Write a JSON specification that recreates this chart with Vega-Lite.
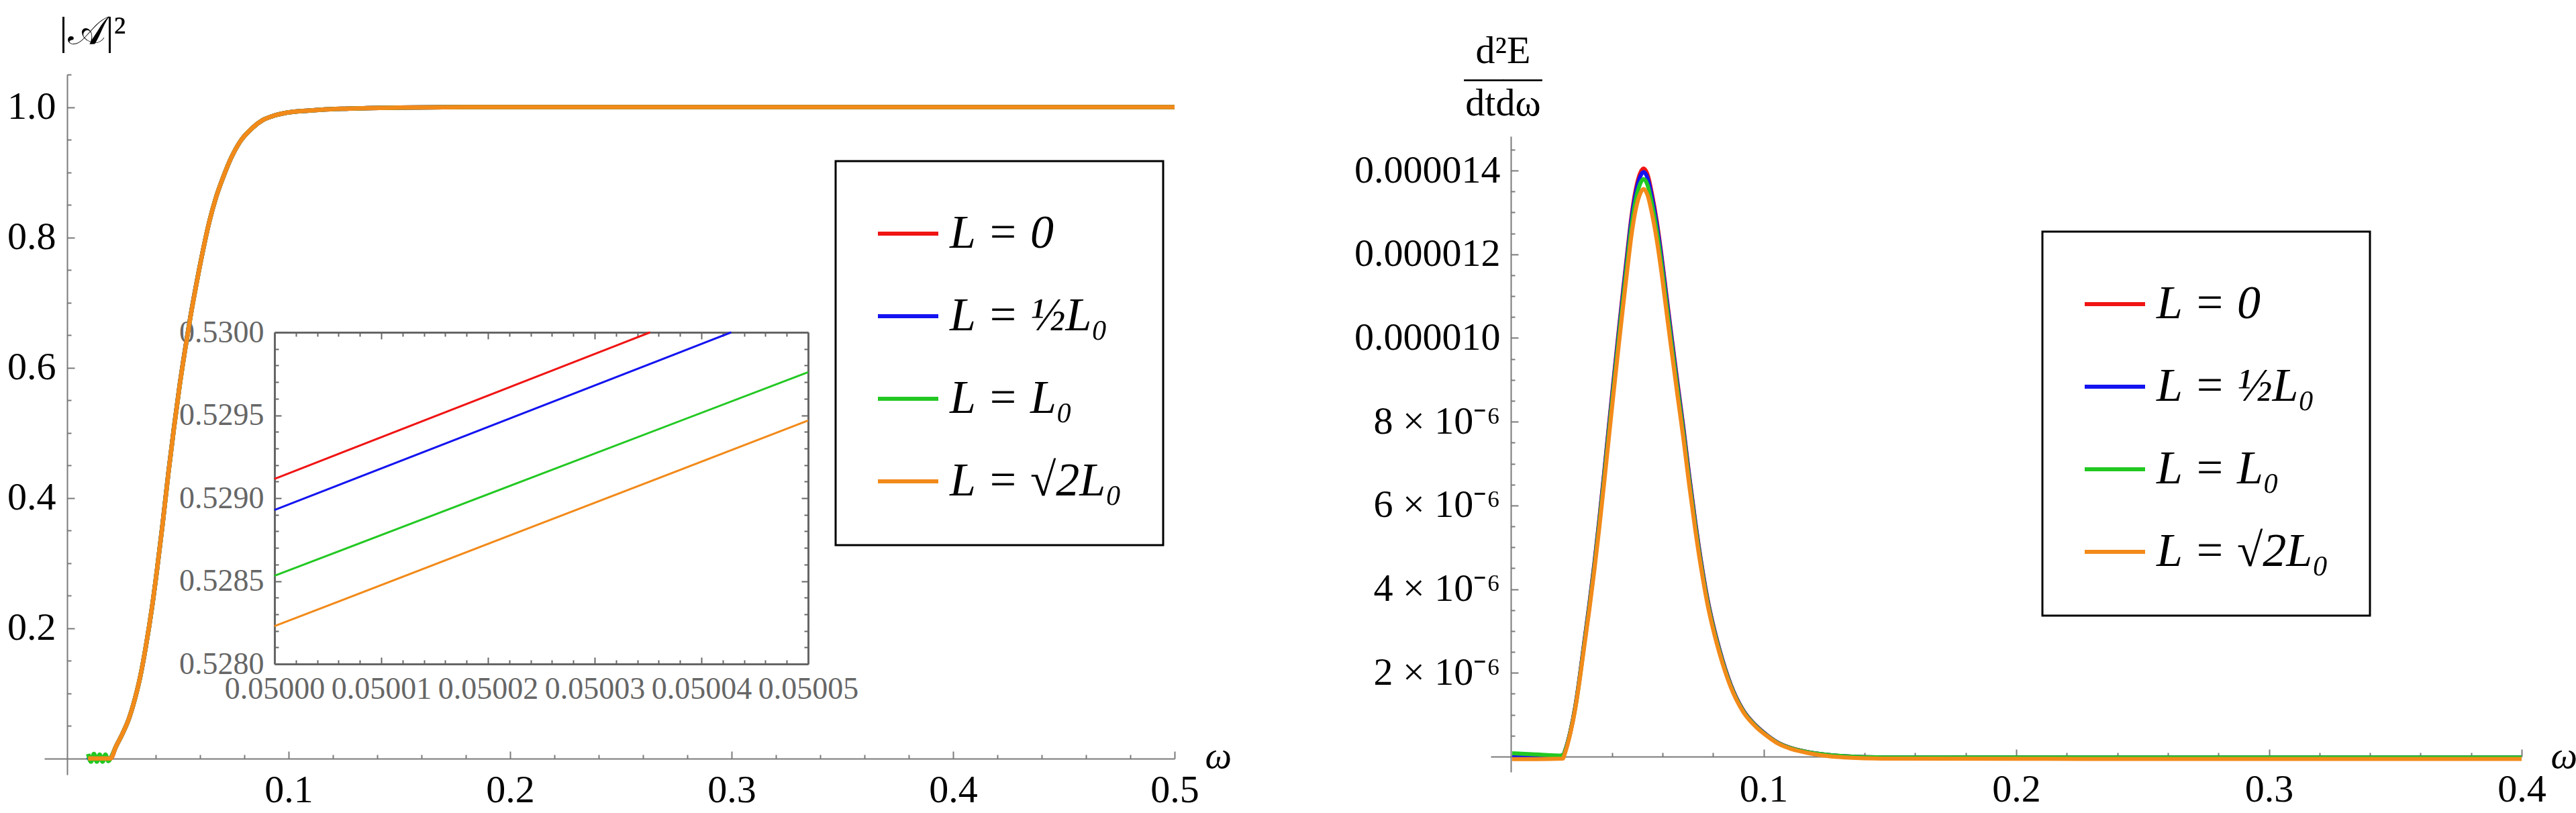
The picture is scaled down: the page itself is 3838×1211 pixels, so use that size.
{
  "$schema": "https://vega.github.io/schema/vega-lite/v6.json",
  "background": "white",
  "padding": {"left": 10, "top": 17, "right": 5, "bottom": 5},
  "spacing": 182,
  "config": {
    "view": {"stroke": null},
    "line": {"interpolate": "monotone", "strokeCap": "butt"},
    "axis": {
      "grid": false,
      "domainColor": "#7a7a7a",
      "domainWidth": 2,
      "tickColor": "#7a7a7a",
      "tickWidth": 2,
      "labelFont": "Liberation Serif",
      "labelFontSize": 58,
      "labelColor": "black",
      "labelLimit": 0,
      "labelFlush": false,
      "labelOverlap": false,
      "labelBound": false,
      "titleFont": "Liberation Serif",
      "titleFontWeight": "normal",
      "titleColor": "black",
      "titlePadding": 0,
      "titleLimit": 0
    },
    "legend": {
      "title": null,
      "symbolType": "stroke",
      "symbolSize": 8100,
      "symbolStrokeWidth": 6,
      "labelFont": "Liberation Serif",
      "labelFontSize": 70,
      "labelFontStyle": "italic",
      "labelColor": "black",
      "labelLimit": 0,
      "labelOffset": 14,
      "rowPadding": 40,
      "padding": 60,
      "strokeColor": "black",
      "strokeWidth": 3,
      "fillColor": "white"
    }
  },
  "datasets": {
    "left": [
      {"w": 0.0095, "a": 0.003, "b": 0.002, "c": 0.007, "d": 0},
      {"w": 0.0108, "a": 0.001, "b": -0.003, "c": -0.005, "d": 0},
      {"w": 0.0121, "a": 0.003, "b": 0.004, "c": 0.007, "d": 0},
      {"w": 0.0134, "a": -0.002, "b": -0.004, "c": -0.005, "d": 0},
      {"w": 0.0147, "a": 0.002, "b": 0.003, "c": 0.006, "d": 0},
      {"w": 0.016, "a": -0.002, "b": -0.003, "c": -0.005, "d": 0},
      {"w": 0.0173, "a": 0.002, "b": 0.002, "c": 0.006, "d": 0},
      {"w": 0.0186, "a": 0, "b": -0.002, "c": -0.004, "d": 0},
      {"w": 0.0196, "a": 0, "b": 0, "c": 0, "d": 0},
      {"w": 0.022, "a": 0.018, "b": 0.018, "c": 0.018, "d": 0.018},
      {"w": 0.025, "a": 0.038, "b": 0.038, "c": 0.038, "d": 0.038},
      {"w": 0.028, "a": 0.062, "b": 0.062, "c": 0.062, "d": 0.062},
      {"w": 0.0305, "a": 0.09, "b": 0.09, "c": 0.09, "d": 0.09},
      {"w": 0.0331, "a": 0.127, "b": 0.127, "c": 0.127, "d": 0.127},
      {"w": 0.0357, "a": 0.175, "b": 0.175, "c": 0.175, "d": 0.175},
      {"w": 0.0382, "a": 0.229, "b": 0.229, "c": 0.229, "d": 0.229},
      {"w": 0.0406, "a": 0.29, "b": 0.29, "c": 0.29, "d": 0.29},
      {"w": 0.0431, "a": 0.3599, "b": 0.3597, "c": 0.3593, "d": 0.359},
      {"w": 0.0457, "a": 0.4379, "b": 0.4377, "c": 0.4373, "d": 0.437},
      {"w": 0.0482, "a": 0.5069, "b": 0.5067, "c": 0.5063, "d": 0.506},
      {"w": 0.0508, "a": 0.5729, "b": 0.5727, "c": 0.5723, "d": 0.572},
      {"w": 0.0533, "a": 0.6289, "b": 0.6287, "c": 0.6283, "d": 0.628},
      {"w": 0.0557, "a": 0.6789, "b": 0.6787, "c": 0.6783, "d": 0.678},
      {"w": 0.0581, "a": 0.7239, "b": 0.7237, "c": 0.7233, "d": 0.723},
      {"w": 0.0611, "a": 0.776, "b": 0.776, "c": 0.776, "d": 0.776},
      {"w": 0.0642, "a": 0.824, "b": 0.824, "c": 0.824, "d": 0.824},
      {"w": 0.0672, "a": 0.861, "b": 0.861, "c": 0.861, "d": 0.861},
      {"w": 0.0702, "a": 0.89, "b": 0.89, "c": 0.89, "d": 0.89},
      {"w": 0.0742, "a": 0.923, "b": 0.923, "c": 0.923, "d": 0.923},
      {"w": 0.0783, "a": 0.948, "b": 0.948, "c": 0.948, "d": 0.948},
      {"w": 0.0833, "a": 0.967, "b": 0.967, "c": 0.967, "d": 0.967},
      {"w": 0.0883, "a": 0.98, "b": 0.98, "c": 0.98, "d": 0.98},
      {"w": 0.0935, "a": 0.987, "b": 0.987, "c": 0.987, "d": 0.987},
      {"w": 0.0985, "a": 0.991, "b": 0.991, "c": 0.991, "d": 0.991},
      {"w": 0.1065, "a": 0.994, "b": 0.994, "c": 0.994, "d": 0.994},
      {"w": 0.1145, "a": 0.996, "b": 0.996, "c": 0.996, "d": 0.996},
      {"w": 0.13, "a": 0.998, "b": 0.998, "c": 0.998, "d": 0.998},
      {"w": 0.15, "a": 0.9993, "b": 0.9993, "c": 0.9993, "d": 0.9993},
      {"w": 0.18, "a": 1, "b": 1, "c": 1, "d": 1},
      {"w": 0.25, "a": 1, "b": 1, "c": 1, "d": 1},
      {"w": 0.5, "a": 1, "b": 1, "c": 1, "d": 1}
    ],
    "inset": [
      {"L": "a", "w": 0.05, "v": 0.529116},
      {"L": "a", "w": 0.0500352, "v": 0.53},
      {"L": "b", "w": 0.05, "v": 0.528929},
      {"L": "b", "w": 0.0500428, "v": 0.53},
      {"L": "c", "w": 0.05, "v": 0.528532},
      {"L": "c", "w": 0.05005, "v": 0.52976},
      {"L": "d", "w": 0.05, "v": 0.528228},
      {"L": "d", "w": 0.05005, "v": 0.529468}
    ],
    "right": [
      {"w": 0.0005, "a": 0.03e-6, "b": 0.03e-6, "c": 0.08e-6, "d": -0.06e-6},
      {"w": 0.01, "a": 0.02e-6, "b": 0.02e-6, "c": 0.05e-6, "d": -0.06e-6},
      {"w": 0.0205, "a": 0, "b": 0, "c": 0.02e-6, "d": -0.05e-6},
      {"w": 0.0215, "a": 0.15e-6, "b": 0.149e-6, "c": 0.147e-6, "d": 0.1e-6},
      {"w": 0.0235, "a": 0.59e-6, "b": 0.586e-6, "c": 0.579e-6, "d": 0.55e-6},
      {"w": 0.0255, "a": 1.2e-6, "b": 1.193e-6, "c": 1.178e-6, "d": 1.15e-6},
      {"w": 0.0272, "a": 1.89e-6, "b": 1.879e-6, "c": 1.856e-6, "d": 1.82e-6},
      {"w": 0.029, "a": 2.72e-6, "b": 2.704e-6, "c": 2.671e-6, "d": 2.62e-6},
      {"w": 0.031, "a": 3.62e-6, "b": 3.598e-6, "c": 3.555e-6, "d": 3.49e-6},
      {"w": 0.033, "a": 4.6e-6, "b": 4.572e-6, "c": 4.517e-6, "d": 4.44e-6},
      {"w": 0.0349, "a": 5.62e-6, "b": 5.586e-6, "c": 5.519e-6, "d": 5.42e-6},
      {"w": 0.0368, "a": 6.72e-6, "b": 6.68e-6, "c": 6.599e-6, "d": 6.48e-6},
      {"w": 0.0387, "a": 7.86e-6, "b": 7.813e-6, "c": 7.719e-6, "d": 7.58e-6},
      {"w": 0.0406, "a": 8.98e-6, "b": 8.926e-6, "c": 8.818e-6, "d": 8.67e-6},
      {"w": 0.0425, "a": 10.08e-6, "b": 10.02e-6, "c": 9.899e-6, "d": 9.73e-6},
      {"w": 0.0444, "a": 11.15e-6, "b": 11.083e-6, "c": 10.949e-6, "d": 10.76e-6},
      {"w": 0.0462, "a": 12.12e-6, "b": 12.047e-6, "c": 11.902e-6, "d": 11.7e-6},
      {"w": 0.0477, "a": 12.9e-6, "b": 12.823e-6, "c": 12.668e-6, "d": 12.45e-6},
      {"w": 0.0491, "a": 13.45e-6, "b": 13.369e-6, "c": 13.208e-6, "d": 12.98e-6},
      {"w": 0.0508, "a": 13.88e-6, "b": 13.797e-6, "c": 13.63e-6, "d": 13.39e-6},
      {"w": 0.0525, "a": 14.05e-6, "b": 13.966e-6, "c": 13.797e-6, "d": 13.56e-6},
      {"w": 0.0541, "a": 13.9e-6, "b": 13.817e-6, "c": 13.65e-6, "d": 13.41e-6},
      {"w": 0.0558, "a": 13.45e-6, "b": 13.369e-6, "c": 13.208e-6, "d": 12.98e-6},
      {"w": 0.0577, "a": 12.8e-6, "b": 12.723e-6, "c": 12.57e-6, "d": 12.35e-6},
      {"w": 0.0596, "a": 11.98e-6, "b": 11.908e-6, "c": 11.764e-6, "d": 11.56e-6},
      {"w": 0.0615, "a": 11.05e-6, "b": 10.984e-6, "c": 10.851e-6, "d": 10.66e-6},
      {"w": 0.0635, "a": 10.08e-6, "b": 10.02e-6, "c": 9.899e-6, "d": 9.73e-6},
      {"w": 0.0659, "a": 8.95e-6, "b": 8.896e-6, "c": 8.789e-6, "d": 8.64e-6},
      {"w": 0.0683, "a": 7.85e-6, "b": 7.803e-6, "c": 7.709e-6, "d": 7.58e-6},
      {"w": 0.0706, "a": 6.7e-6, "b": 6.66e-6, "c": 6.579e-6, "d": 6.47e-6},
      {"w": 0.073, "a": 5.6e-6, "b": 5.566e-6, "c": 5.499e-6, "d": 5.4e-6},
      {"w": 0.0753, "a": 4.65e-6, "b": 4.622e-6, "c": 4.566e-6, "d": 4.49e-6},
      {"w": 0.0777, "a": 3.8e-6, "b": 3.777e-6, "c": 3.732e-6, "d": 3.67e-6},
      {"w": 0.0801, "a": 3.13e-6, "b": 3.111e-6, "c": 3.074e-6, "d": 3.02e-6},
      {"w": 0.0825, "a": 2.57e-6, "b": 2.555e-6, "c": 2.524e-6, "d": 2.48e-6},
      {"w": 0.087, "a": 1.72e-6, "b": 1.71e-6, "c": 1.689e-6, "d": 1.66e-6},
      {"w": 0.092, "a": 1.1e-6, "b": 1.093e-6, "c": 1.08e-6, "d": 1.06e-6},
      {"w": 0.0968, "a": 0.75e-6, "b": 0.746e-6, "c": 0.737e-6, "d": 0.72e-6},
      {"w": 0.1016, "a": 0.5e-6, "b": 0.497e-6, "c": 0.491e-6, "d": 0.48e-6},
      {"w": 0.106, "a": 0.32e-6, "b": 0.318e-6, "c": 0.314e-6, "d": 0.3e-6},
      {"w": 0.111, "a": 0.2e-6, "b": 0.199e-6, "c": 0.196e-6, "d": 0.18e-6},
      {"w": 0.118, "a": 0.1e-6, "b": 0.099e-6, "c": 0.098e-6, "d": 0.08e-6},
      {"w": 0.1255, "a": 0.04e-6, "b": 0.04e-6, "c": 0.039e-6, "d": 0.01e-6},
      {"w": 0.135, "a": 0, "b": 0, "c": 0, "d": -0.03e-6},
      {"w": 0.15, "a": -0.02e-6, "b": -0.02e-6, "c": -0.02e-6, "d": -0.05e-6},
      {"w": 0.2, "a": -0.02e-6, "b": -0.02e-6, "c": -0.02e-6, "d": -0.055e-6},
      {"w": 0.3, "a": -0.02e-6, "b": -0.02e-6, "c": -0.02e-6, "d": -0.056e-6},
      {"w": 0.4, "a": -0.02e-6, "b": -0.02e-6, "c": -0.02e-6, "d": -0.056e-6}
    ]
  },
  "resolve": {"scale": {"color": "independent"}, "legend": {"color": "independent"}},
  "hconcat": [
    {
      "width": 1684,
      "height": 1043,
      "resolve": {"scale": {"x": "independent", "y": "independent"}},
      "layer": [
        {
          "data": {"name": "left"},
          "transform": [{"fold": ["a", "b", "c", "d"], "as": ["L", "v"]}],
          "mark": {"type": "line", "strokeWidth": 6.5},
          "encoding": {
            "x": {
              "field": "w", "type": "quantitative",
              "scale": {"domain": [-0.0103, 0.5], "nice": false, "zero": false},
              "axis": {
                "orient": "bottom", "offset": -24,
                "values": [0.02, 0.04, 0.06, 0.08, 0.1, 0.12, 0.14, 0.16, 0.18, 0.2, 0.22, 0.24, 0.26, 0.28, 0.3, 0.32, 0.34, 0.36, 0.38, 0.4, 0.42, 0.44, 0.46, 0.48, 0.5],
                "labelExpr": "abs(datum.value*10-round(datum.value*10)) < 0.001 ? format(datum.value, '.1f') : ''",
                "tickSize": {"condition": {"test": "abs(datum.value*10-round(datum.value*10)) < 0.001", "value": -11}, "value": -6},
                "labelPadding": 29,
                "title": "ω", "titleFontStyle": "italic", "titleFontSize": 56,
                "titleAngle": 0, "titleAlign": "left", "titleBaseline": "alphabetic",
                "titleX": 1729, "titleY": 13
              }
            },
            "y": {
              "field": "v", "type": "quantitative",
              "scale": {"domain": [-0.025, 1.05], "nice": false, "zero": false},
              "axis": {
                "orient": "left", "offset": -34,
                "values": [0.05, 0.1, 0.15, 0.2, 0.25, 0.3, 0.35, 0.4, 0.45, 0.5, 0.55, 0.6, 0.65, 0.7, 0.75, 0.8, 0.85, 0.9, 0.95, 1.0, 1.05],
                "labelExpr": "abs(datum.value*5-round(datum.value*5)) < 0.001 ? format(datum.value, '.1f') : ''",
                "tickSize": {"condition": {"test": "abs(datum.value*5-round(datum.value*5)) < 0.001", "value": -11}, "value": -6},
                "labelPadding": 28,
                "title": "|𝒜|²", "titleFontSize": 60,
                "titleAngle": 0, "titleAlign": "left", "titleBaseline": "alphabetic",
                "titleX": -12, "titleY": -46
              }
            },
            "color": {
              "field": "L", "type": "nominal",
              "scale": {"domain": ["a", "b", "c", "d"], "range": ["#f01414", "#1414f0", "#22c822", "#f28a1a"]},
              "legend": {
                "orient": "none", "legendX": 1179, "legendY": 129,
                "labelExpr": "datum.label == 'a' ? 'L = 0' : datum.label == 'b' ? 'L = ½L₀' : datum.label == 'c' ? 'L = L₀' : 'L = √2L₀'"
              }
            }
          }
        },
        {
          "data": {"name": "inset"},
          "mark": {"type": "line", "strokeWidth": 3, "interpolate": "linear"},
          "encoding": {
            "x": {
              "field": "w", "type": "quantitative",
              "scale": {"domain": [0.05, 0.05005], "range": [343, 1138], "nice": false, "zero": false},
              "axis": {
                "orient": "bottom", "offset": -165,
                "values": [0.05, 0.050002, 0.050004, 0.050006, 0.050008, 0.05001, 0.050012, 0.050014, 0.050016, 0.050018, 0.05002, 0.050022, 0.050024, 0.050026, 0.050028, 0.05003, 0.050032, 0.050034, 0.050036, 0.050038, 0.05004, 0.050042, 0.050044, 0.050046, 0.050048, 0.05005],
                "labelExpr": "abs((datum.value-0.05)*100000-round((datum.value-0.05)*100000)) < 0.01 ? format(datum.value, '.5f') : ''",
                "tickSize": {"condition": {"test": "abs((datum.value-0.05)*100000-round((datum.value-0.05)*100000)) < 0.01", "value": -10}, "value": -6},
                "labelPadding": 25, "labelFontSize": 46, "labelColor": "#666666",
                "domainColor": "#666666", "domainWidth": 3, "tickColor": "#666666",
                "title": null
              }
            },
            "y": {
              "field": "v", "type": "quantitative",
              "scale": {"domain": [0.528, 0.53], "range": [878, 384], "nice": false, "zero": false},
              "axis": {
                "orient": "left", "offset": -343,
                "values": [0.528, 0.5281, 0.5282, 0.5283, 0.5284, 0.5285, 0.5286, 0.5287, 0.5288, 0.5289, 0.529, 0.5291, 0.5292, 0.5293, 0.5294, 0.5295, 0.5296, 0.5297, 0.5298, 0.5299, 0.53],
                "labelExpr": "abs((datum.value-0.528)*2000-round((datum.value-0.528)*2000)) < 0.01 ? format(datum.value, '.4f') : ''",
                "tickSize": {"condition": {"test": "abs((datum.value-0.528)*2000-round((datum.value-0.528)*2000)) < 0.01", "value": -10}, "value": -6},
                "labelPadding": 26, "labelFontSize": 46, "labelColor": "#666666",
                "domainColor": "#666666", "domainWidth": 3, "tickColor": "#666666",
                "title": null
              }
            },
            "color": {"field": "L", "type": "nominal"}
          }
        },
        {
          "data": {"name": "inset"},
          "mark": {"type": "line", "opacity": 0},
          "encoding": {
            "x": {
              "field": "w", "type": "quantitative",
              "scale": {"domain": [0.05, 0.05005], "range": [343, 1138], "nice": false, "zero": false},
              "axis": {
                "orient": "top", "offset": -384, "labels": false,
                "values": [0.05, 0.050002, 0.050004, 0.050006, 0.050008, 0.05001, 0.050012, 0.050014, 0.050016, 0.050018, 0.05002, 0.050022, 0.050024, 0.050026, 0.050028, 0.05003, 0.050032, 0.050034, 0.050036, 0.050038, 0.05004, 0.050042, 0.050044, 0.050046, 0.050048, 0.05005],
                "tickSize": {"condition": {"test": "abs((datum.value-0.05)*100000-round((datum.value-0.05)*100000)) < 0.01", "value": -10}, "value": -6},
                "domainColor": "#666666", "domainWidth": 3, "tickColor": "#666666",
                "title": null
              }
            },
            "y": {
              "field": "v", "type": "quantitative",
              "scale": {"domain": [0.528, 0.53], "range": [878, 384], "nice": false, "zero": false},
              "axis": {
                "orient": "right", "offset": -546, "labels": false,
                "values": [0.528, 0.5281, 0.5282, 0.5283, 0.5284, 0.5285, 0.5286, 0.5287, 0.5288, 0.5289, 0.529, 0.5291, 0.5292, 0.5293, 0.5294, 0.5295, 0.5296, 0.5297, 0.5298, 0.5299, 0.53],
                "tickSize": {"condition": {"test": "abs((datum.value-0.528)*2000-round((datum.value-0.528)*2000)) < 0.01", "value": -10}, "value": -6},
                "domainColor": "#666666", "domainWidth": 3, "tickColor": "#666666",
                "title": null
              }
            }
          }
        }
      ]
    },
    {
      "width": 1536,
      "height": 1039,
      "data": {"name": "right"},
      "transform": [{"fold": ["a", "b", "c", "d"], "as": ["L", "v"]}],
      "mark": {"type": "line", "strokeWidth": 6},
      "encoding": {
        "x": {
          "field": "w", "type": "quantitative",
          "scale": {"domain": [-0.008, 0.4], "nice": false, "zero": false},
          "axis": {
            "orient": "bottom", "offset": -23,
            "values": [0.02, 0.04, 0.06, 0.08, 0.1, 0.12, 0.14, 0.16, 0.18, 0.2, 0.22, 0.24, 0.26, 0.28, 0.3, 0.32, 0.34, 0.36, 0.38, 0.4],
            "labelExpr": "abs(datum.value*10-round(datum.value*10)) < 0.001 ? format(datum.value, '.1f') : ''",
            "tickSize": {"condition": {"test": "abs(datum.value*10-round(datum.value*10)) < 0.001", "value": -11}, "value": -6},
            "labelPadding": 31,
            "title": "ω", "titleFontStyle": "italic", "titleFontSize": 56,
            "titleAngle": 0, "titleAlign": "left", "titleBaseline": "alphabetic",
            "titleX": 1579, "titleY": 16
          }
        },
        "y": {
          "field": "v", "type": "quantitative",
          "scale": {"domain": [-0.37e-6, 16.295e-6], "nice": false, "zero": false},
          "axis": {
            "orient": "left", "offset": -30,
            "domainDash": [947, 4000],
            "values": [0.5e-6, 1e-6, 1.5e-6, 2e-6, 2.5e-6, 3e-6, 3.5e-6, 4e-6, 4.5e-6, 5e-6, 5.5e-6, 6e-6, 6.5e-6, 7e-6, 7.5e-6, 8e-6, 8.5e-6, 9e-6, 9.5e-6, 10e-6, 10.5e-6, 11e-6, 11.5e-6, 12e-6, 12.5e-6, 13e-6, 13.5e-6, 14e-6, 14.5e-6],
            "labelExpr": "abs(datum.value*500000-round(datum.value*500000)) < 0.01 ? (datum.value > 9e-6 ? format(datum.value, '.6f') : format(datum.value*1000000, 'd') + ' × 10⁻⁶') : ''",
            "tickSize": {"condition": {"test": "abs(datum.value*500000-round(datum.value*500000)) < 0.01", "value": -11}, "value": -6},
            "labelPadding": 27,
            "title": ["d²E", "——", "dtdω"], "titleFontSize": 58, "titleLineHeight": 39,
            "titleAngle": 0, "titleAlign": "center", "titleBaseline": "alphabetic",
            "titleX": -12, "titleY": -18
          }
        },
        "color": {
          "field": "L", "type": "nominal",
          "scale": {"domain": ["a", "b", "c", "d"], "range": ["#f01414", "#1414f0", "#22c822", "#f28a1a"]},
          "legend": {
            "orient": "none", "legendX": 822, "legendY": 234,
            "labelExpr": "datum.label == 'a' ? 'L = 0' : datum.label == 'b' ? 'L = ½L₀' : datum.label == 'c' ? 'L = L₀' : 'L = √2L₀'"
          }
        }
      }
    }
  ]
}
